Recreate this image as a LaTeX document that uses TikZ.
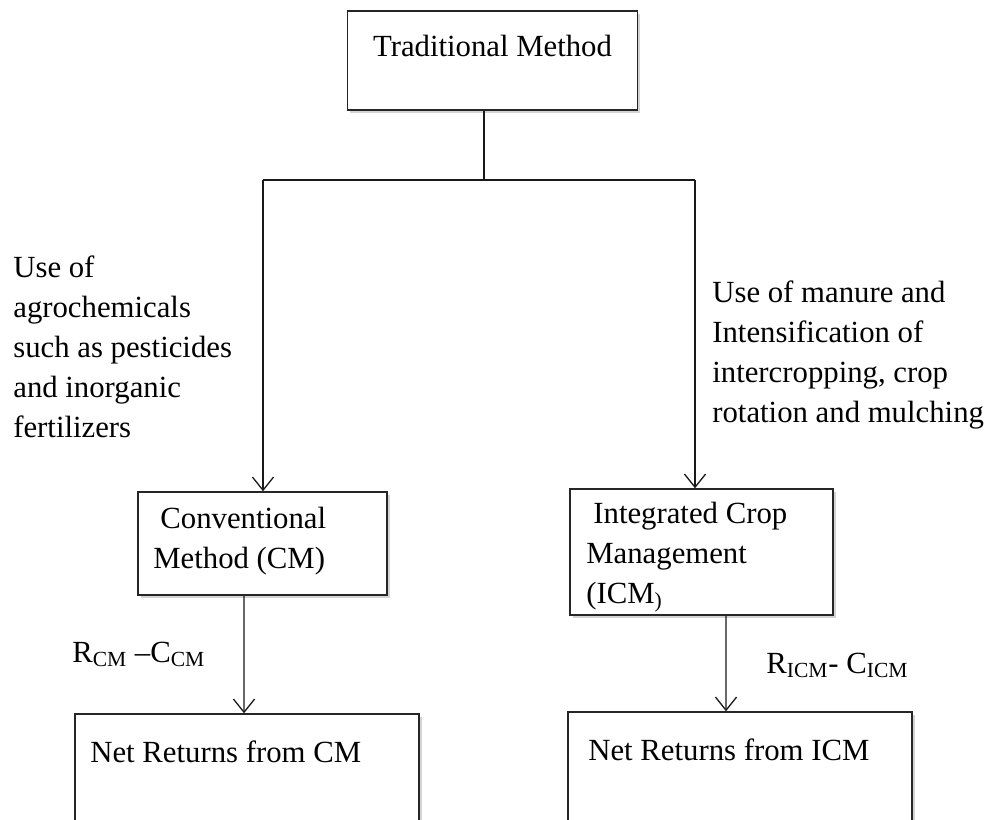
\documentclass[tikz,border=0pt]{standalone}
\usepackage{fontspec}
\setmainfont{Liberation Serif}
\usetikzlibrary{arrows.meta,shadows}

\begin{document}
\begin{tikzpicture}[x=0.2mm,y=-0.2mm,
  box/.style={draw=black!85,line width=0.8pt,fill=white,inner sep=0pt,
    drop shadow={shadow xshift=1.5pt,shadow yshift=-1.5pt,opacity=0.35}},
  txt/.style={anchor=base west,align=left,inner sep=0pt,font=\fontsize{17.5}{22.7}\selectfont},
  arr/.style={-{Straight Barb[length=7.5pt,width=12pt]}},
  conn/.style={draw=black!90,line width=0.75pt}]
\useasboundingbox (0,0) rectangle (987,819);
\clip (0,0) rectangle (987,819);
\node[box,minimum width=5.8cm,minimum height=1.98cm] (trad) at (492.5,60.5) {};
\node[box,minimum width=4.98cm,minimum height=2.06cm] (cm) at (262.5,543.5) {};
\node[box,minimum width=5.26cm,minimum height=2.52cm] (icm) at (701.5,552) {};
\node[box,minimum width=6.88cm,minimum height=2.7cm] (ncm) at (247,781.5) {};
\node[box,minimum width=6.88cm,minimum height=2.7cm] (nicm) at (740,779.5) {};
\node[txt,anchor=base] (tradtxt) at (492.5,56) {Traditional Method};
\node[txt] (cmtxt) at (153,568) {\hspace*{4pt}Conventional\\Method (CM)};
\node[txt] (icmtxt) at (586,603) {\hspace*{4pt}Integrated Crop\\Management\\(ICM\textsubscript{)}};
\node[txt] (usechem) at (13,437) {Use of\\agrochemicals\\such as pesticides\\and inorganic\\fertilizers};
\node[txt] (usemanure) at (712,422) {Use of manure and\\Intensification of\\intercropping, crop\\rotation and mulching};
\node[txt] (rcm) at (72,662) {R\textsubscript{CM} --C\textsubscript{CM}};
\node[txt] (ricm) at (766,673) {R\textsubscript{ICM}- C\textsubscript{ICM}};
\node[txt] (ncmtxt) at (90,762) {Net Returns from CM};
\node[txt] (nicmtxt) at (588,760) {Net Returns from ICM};
\coordinate (split) at (484,180);
\coordinate (lft) at (263,180);
\coordinate (rgt) at (695,180);
\draw[conn] (trad.south -| split) -- (split);
\draw[conn] (lft) -- (rgt);
\draw[conn,arr] (lft) -- (lft |- cm.north);
\draw[conn,arr] (rgt) -- (rgt |- icm.north);
\draw[conn,arr] ([xshift=-0.37cm]cm.south) -- ([xshift=-0.06cm]ncm.north);
\draw[conn,arr] ([xshift=0.49cm]icm.south) -- ([xshift=-0.28cm]nicm.north);
\end{tikzpicture}
\end{document}
